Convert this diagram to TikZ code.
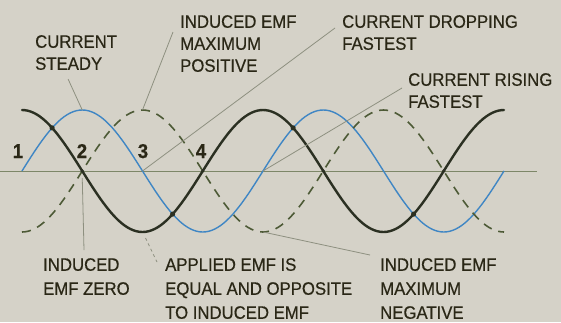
\documentclass[tikz,border=0pt]{standalone}
\usepackage{fontspec}
\setmainfont{Liberation Sans}[FakeStretch=0.93, FakeBold=0.5]
\usetikzlibrary{positioning}

\definecolor{paper}{HTML}{D5D2C8}
\definecolor{ink}{HTML}{2A2716}
\definecolor{currblue}{HTML}{3F86C4}
\definecolor{applblk}{HTML}{2B3022}
\definecolor{indgreen}{HTML}{4D5A36}
\definecolor{axisol}{HTML}{7D8768}
\definecolor{leadgray}{HTML}{8E9080}

\begin{document}
\begin{tikzpicture}[
  x=1pt, y=-1pt,
  every node/.style={text=ink},
  lbl/.style={anchor=north west, inner sep=0pt, align=left,
              font=\fontsize{18}{#1}\selectfont},
  lbl/.default=22,
  num/.style={anchor=base, inner sep=0pt, font=\fontsize{20}{20}\selectfont\bfseries},
  leader/.style={draw=leadgray, line width=0.8pt},
  axisline/.style={draw=axisol, line width=1pt},
  curr/.style={draw=currblue, line width=1.4pt},
  appl/.style={draw=applblk, line width=2.4pt, line cap=round},
  ind/.style={draw=indgreen, line width=1.6pt, dash pattern=on 9pt off 7pt},
]

% ── Fond ─────────────────────────────────────────────────────────────
\fill[paper] (0,0) rectangle (561,322);
\useasboundingbox (0,0) rectangle (561,322);

% ── Axe ──────────────────────────────────────────────────────────────
\draw[axisline] (0,171) -- (537,171);

% ── Courbes : courant (bleu), f.e.m. appliquée (noir), induite (tirets)
\draw[curr] plot[domain=22:504, samples=161] (\x, {171 - 61*sin(1.49378*(\x-22))});
\draw[ind]  plot[domain=22:504, samples=161] (\x, {171 + 61*cos(1.49378*(\x-22))});
\draw[appl] plot[domain=22:504, samples=161] (\x, {171 - 61*cos(1.49378*(\x-22))});

% points de croisement
\foreach \xx/\yy in {52.1/127.9, 172.6/214.1, 293.1/127.9, 413.6/214.1}
  \fill[applblk] (\xx,\yy) circle (2.6pt);
\foreach \xx in {82.25, 202.75, 323.25, 443.75}
  \fill[applblk] (\xx,171) circle (1.8pt);

% ── Points repères ───────────────────────────────────────────────────
\coordinate (bluepk) at (82.25,110);
\coordinate (dashpk) at (142.5,110);
\coordinate (p2)     at (82.25,171);
\coordinate (p3)     at (142.5,171);
\coordinate (risept) at (263,171);
\coordinate (blktr)  at (142.5,232);
\coordinate (dashtr) at (263,232);

% ── Numéros ──────────────────────────────────────────────────────────
\node[num] (n1) at (18,158)  {1};
\node[num] (n2) at (82,158)  {2};
\node[num] (n3) at (143,158) {3};
\node[num] (n4) at (201,158) {4};

% ── Étiquettes ───────────────────────────────────────────────────────
\node[lbl] (steady)  at (35,35)   {CURRENT\\STEADY};
\node[lbl] (emfpos)  at (180,15)  {INDUCED EMF\\MAXIMUM\\POSITIVE};
\node[lbl] (drop)    at (342,15)  {CURRENT DROPPING\\FASTEST};
\node[lbl] (rise)    at (408,73)  {CURRENT RISING\\FASTEST};
\node[lbl=24] (emfzero) at (43,258)  {INDUCED\\EMF ZERO};
\node[lbl=24] (applied) at (165,258) {APPLIED EMF IS\\EQUAL AND OPPOSITE\\TO INDUCED EMF};
\node[lbl=24] (emfneg)  at (380,258) {INDUCED EMF\\MAXIMUM\\NEGATIVE};

% ── Lignes de rappel ─────────────────────────────────────────────────
\draw[leader] ([xshift=-8pt, yshift=-9pt]steady.south) -- (bluepk);
\draw[leader] ([xshift=-7pt, yshift=-17pt]emfpos.north west) -- (dashpk);
\draw[leader] ([xshift=-7pt, yshift=-13pt]drop.north west) -- (p3);
\draw[leader] ([xshift=-6pt, yshift=-15pt]rise.north west) -- (risept);
\draw[leader] ([yshift=-7pt]p2) -- ([xshift=41pt, yshift=8pt]emfzero.north west);
\draw[leader, dashed] ([xshift=3pt, yshift=-6pt]blktr) -- ([xshift=-8pt, yshift=-4pt]applied.north west);
\draw[leader] (dashtr) -- ([xshift=-10pt, yshift=3pt]emfneg.north west);

\end{tikzpicture}
\end{document}
